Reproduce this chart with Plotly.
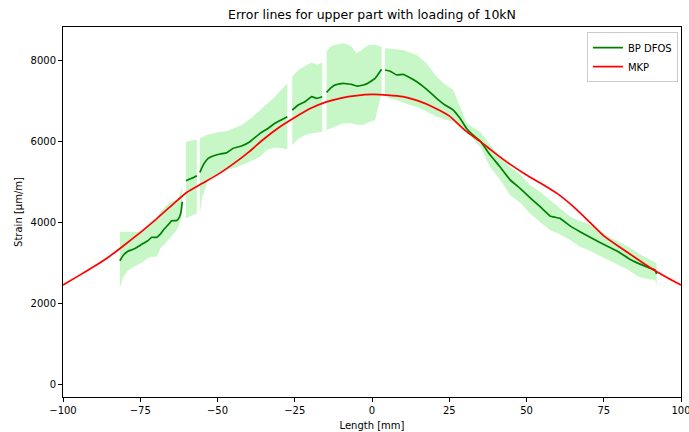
import plotly.graph_objects as go

# ---- MKP (red) curve ----
mkp_x = [-100, -95, -90, -85, -80, -75, -70, -65, -60, -55, -50, -45, -40, -35, -30, -25, -20, -15, -10, -5,
         0, 5, 10, 15, 20, 25, 30, 35, 40, 45, 50, 55, 60, 65, 70, 75, 80, 85, 90, 95, 100]
mkp_y = [2444, 2670, 2900, 3150, 3440, 3740, 4060, 4400, 4730, 4950, 5170, 5430, 5720, 6050, 6340, 6580, 6800, 6960, 7060, 7120,
         7150, 7135, 7095, 6990, 6830, 6620, 6270, 5990, 5690, 5410, 5160, 4940, 4700, 4390, 4030, 3660, 3390, 3130, 2870, 2650, 2444]

# ---- BP DFOS (green) segments: x, mean, upper, lower ----
s1_x = [-81.6, -80.5, -79, -77.5, -76, -74, -72.5, -71.3, -69.7, -68.5, -67.5, -66, -64.8, -63.2, -62.3, -61.8, -61.4]
s1_m = [3044, 3180, 3280, 3320, 3380, 3474, 3540, 3622, 3622, 3700, 3802, 3930, 4033, 4040, 4120, 4255, 4500]
s1_u = [3760, 3760, 3760, 3760, 3760, 3800, 3880, 3980, 4100, 4250, 4330, 4450, 4500, 4560, 4650, 4800, 4870]
s1_l = [2370, 2650, 2800, 2880, 2950, 3020, 3110, 3143, 3140, 3350, 3420, 3555, 3650, 3802, 3950, 4100, 4250]

s2_x = [-60.2, -59, -58, -56.7]
s2_m = [5020, 5060, 5090, 5143]
s2_u = [5983, 6000, 6020, 6040]
s2_l = [4091, 4130, 4170, 4214]

s3_x = [-55.7, -55, -54, -53, -51.4, -49.2, -47, -44.9, -42.2, -39.5, -36.2, -34.1, -31.4, -29.4, -27.4]
s3_m = [5225, 5350, 5480, 5570, 5630, 5679, 5711, 5820, 5877, 5983, 6190, 6289, 6437, 6518, 6600]
s3_u = [6066, 6100, 6130, 6160, 6190, 6220, 6240, 6300, 6395, 6540, 6760, 6890, 7094, 7259, 7420]
s3_l = [4214, 4600, 4790, 5037, 5130, 5200, 5284, 5330, 5400, 5489, 5612, 5777, 5843, 5830, 5793]

s4_x = [-25.8, -23.9, -21.7, -19.5, -17.9, -16.1]
s4_m = [6765, 6889, 6970, 7094, 7054, 7094]
s4_u = [7600, 7750, 7850, 7940, 7880, 7930]
s4_l = [5901, 6050, 6148, 6190, 6210, 6230]

s5_x = [-14.7, -13.5, -12, -10.5, -9.3, -8, -6.6, -5, -2.8, -1.5, -0.6, 1, 2, 3.1]
s5_m = [7200, 7300, 7383, 7410, 7424, 7410, 7400, 7358, 7383, 7420, 7464, 7548, 7650, 7770]
s5_u = [8212, 8330, 8370, 8400, 8412, 8390, 8328, 8163, 8290, 8350, 8370, 8370, 8350, 8328]
s5_l = [6272, 6310, 6353, 6400, 6430, 6437, 6437, 6400, 6395, 6437, 6480, 6519, 6800, 7200]

s6_x = [4.2, 5.8, 8, 10.1, 11.7, 14.5, 17.7, 20.9, 23.6, 26.3, 28.5, 30.6, 33.3, 35, 38.2, 41.4, 44.7,
        47.9, 51.1, 54.4, 57.6, 60.8, 64.1, 67.3, 70, 73.3, 76.5, 79.7, 83, 86.2, 89.4, 91.6, 92.1]
s6_m = [7753, 7728, 7630, 7646, 7588, 7464, 7275, 7054, 6889, 6765, 6560, 6311, 6106, 6000, 5660, 5366, 5040,
        4832, 4605, 4378, 4150, 4091, 3905, 3761, 3650, 3514, 3390, 3267, 3102, 2979, 2880, 2815, 2716]
s6_u = [8290, 8280, 8260, 8247, 8200, 8123, 7915, 7588, 7400, 7259, 6847, 6437, 6300, 6230, 5900, 5620, 5366,
        5180, 4914, 4750, 4543, 4350, 4131, 4020, 3965, 3800, 3637, 3520, 3390, 3226, 3100, 3020, 2980]
s6_l = [7100, 7050, 7012, 6950, 6900, 6847, 6720, 6600, 6530, 6477, 6350, 6230, 6000, 5860, 5366, 5050, 4667,
        4480, 4214, 4000, 3802, 3700, 3555, 3390, 3309, 3180, 3062, 2950, 2815, 2650, 2590, 2568, 2444]

segments = [(s1_x, s1_m, s1_u, s1_l), (s2_x, s2_m, s2_u, s2_l), (s3_x, s3_m, s3_u, s3_l),
            (s4_x, s4_m, s4_u, s4_l), (s5_x, s5_m, s5_u, s5_l), (s6_x, s6_m, s6_u, s6_l)]

fig = go.Figure()

# bands
for sx, sm, su, sl in segments:
    fig.add_trace(go.Scatter(x=sx + sx[::-1], y=su + sl[::-1], fill="toself",
                             fillcolor="rgba(144,238,144,0.5)", line=dict(width=0),
                             mode="lines", hoverinfo="skip", showlegend=False))

# green mean line, segments separated by None
gx, gy = [], []
for sx, sm, su, sl in segments:
    gx += sx + [None]
    gy += sm + [None]
fig.add_trace(go.Scatter(x=gx, y=gy, mode="lines", name="BP DFOS",
                         line=dict(color="green", width=1.7, shape="spline", smoothing=0.3), connectgaps=False))

fig.add_trace(go.Scatter(x=mkp_x, y=mkp_y, mode="lines", name="MKP",
                         line=dict(color="red", width=1.7, shape="spline", smoothing=0.4)))

font = "DejaVu Sans, sans-serif"
xt = [-100, -75, -50, -25, 0, 25, 50, 75, 100]
yt = [0, 2000, 4000, 6000, 8000]
fig.update_layout(
    width=689, height=432,
    margin=dict(l=63, r=8, t=27, b=35),
    paper_bgcolor="white", plot_bgcolor="white",
    font=dict(family=font, size=10, color="black"),
    title=dict(text="Error lines for upper part with loading of 10kN", x=(63 + 309) / 689, xanchor="center",
               y=1 - 15 / 432, yanchor="middle", font=dict(size=12.5, family=font)),
    legend=dict(x=0.995, y=0.986, xanchor="right", yanchor="top", bgcolor="white",
                bordercolor="#cccccc", borderwidth=1, font=dict(size=10, family=font),
                tracegroupgap=0, itemwidth=30),
    showlegend=True,
)
fig.update_xaxes(range=[-100, 100], tickvals=xt, ticktext=[("\u2212" + str(-v)) if v < 0 else str(v) for v in xt],
                 showgrid=False, zeroline=False, showline=True, linecolor="black", linewidth=1, mirror=True,
                 ticks="outside", ticklen=4, tickcolor="black", ticklabeloverflow="allow", automargin=False,
                 title=dict(text="Length [mm]", font=dict(size=10, family=font), standoff=6))
fig.update_yaxes(range=[-320, 8815], tickvals=yt, ticktext=[str(v) for v in yt],
                 showgrid=False, zeroline=False, showline=True, linecolor="black", linewidth=1, mirror=True,
                 ticks="outside", ticklen=4, tickcolor="black", automargin=False,
                 title=dict(text="Strain [µm/m]", font=dict(size=10, family=font), standoff=6))

fig.write_html("out.html")
